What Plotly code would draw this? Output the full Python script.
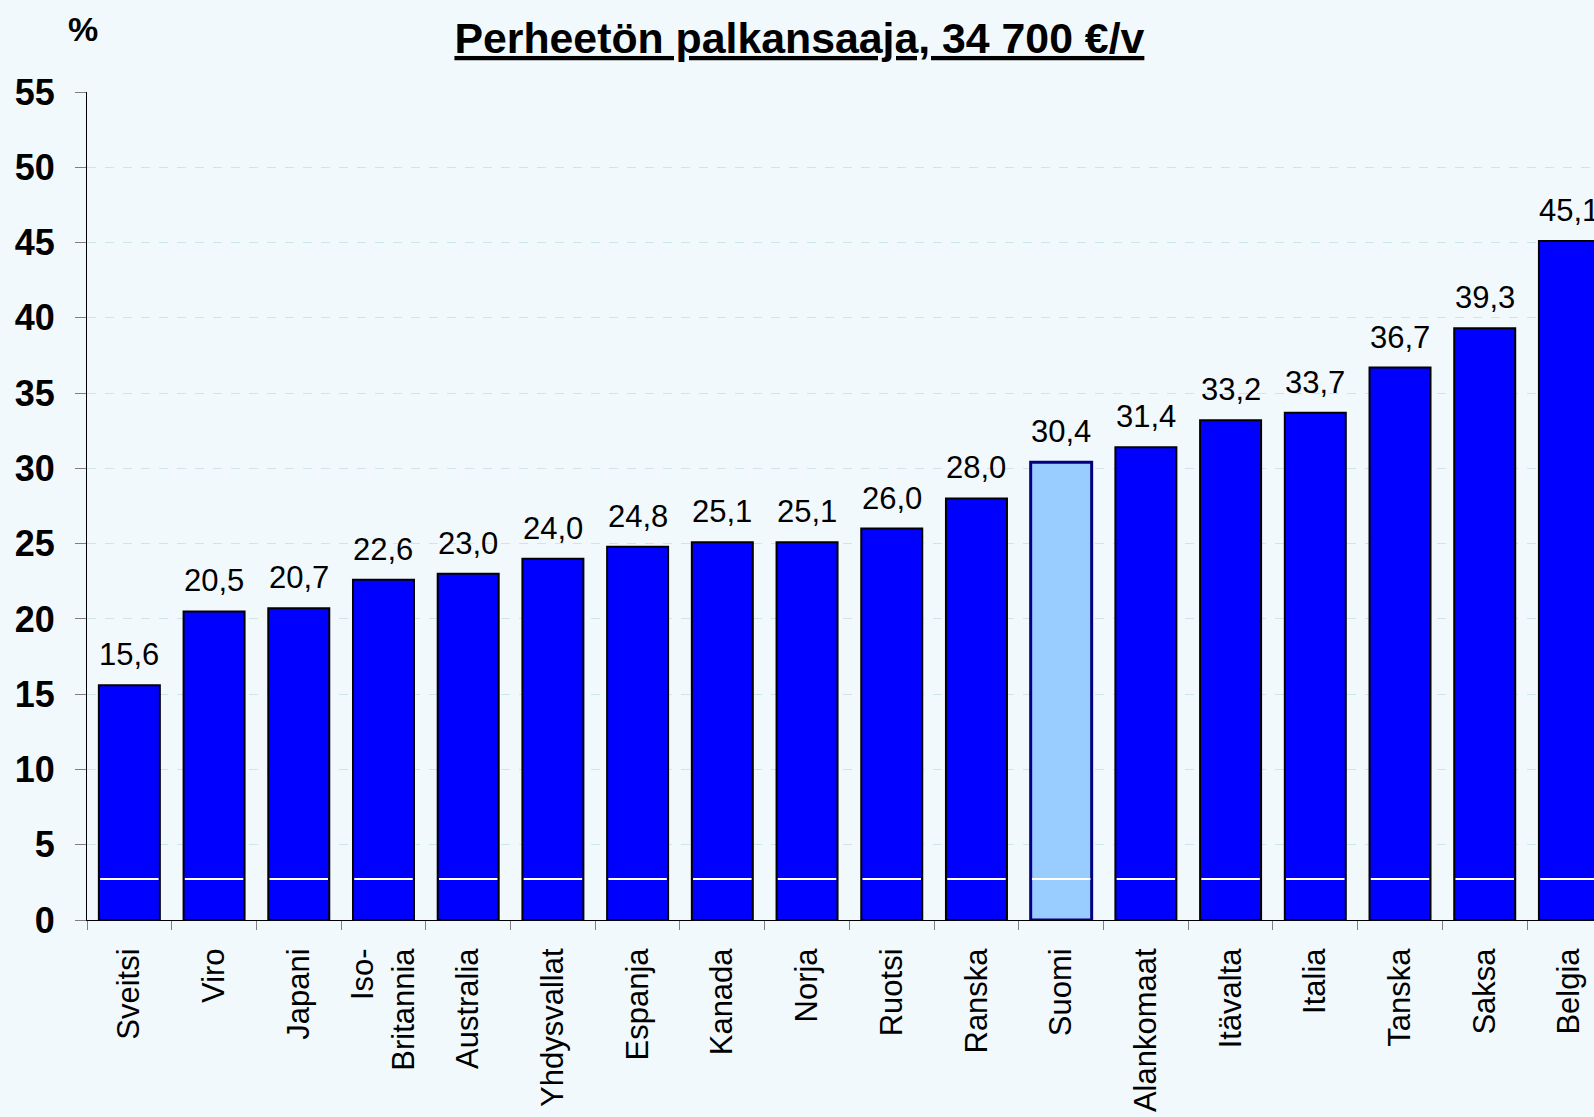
import plotly.graph_objects as go

countries = ["Sveitsi", "Viro", "Japani", "Iso-<br>Britannia", "Australia", "Yhdysvallat",
             "Espanja", "Kanada", "Norja", "Ruotsi", "Ranska", "Suomi", "Alankomaat",
             "Itävalta", "Italia", "Tanska", "Saksa", "Belgia"]
values = [15.6, 20.5, 20.7, 22.6, 23.0, 24.0, 24.8, 25.1, 25.1, 26.0, 28.0, 30.4, 31.4,
          33.2, 33.7, 36.7, 39.3, 45.1]
highlight = "Suomi"
stripe_level = 2.70
stripe_height = 0.07
y_ticks = list(range(0, 60, 5))
title_text = "Perheetön palkansaaja, 34 700 €/v"

FONT = "Liberation Sans, Arial, sans-serif"
BG = "#F2F9FD"

fill = ["#99CCFF" if c == highlight else "#0000FF" for c in countries]
edge = ["#000080" if c == highlight else "#000000" for c in countries]
edge_w = [3 if c == highlight else 2 for c in countries]

fig = go.Figure()
fig.add_trace(go.Bar(
    x=countries, y=values, width=0.72,
    marker=dict(color=fill, line=dict(color=edge, width=edge_w)),
    showlegend=False,
))
fig.add_trace(go.Bar(
    x=countries, y=[stripe_height] * len(countries), base=[stripe_level - stripe_height / 2] * len(countries),
    width=0.69, marker=dict(color="white", line=dict(width=0)),
    showlegend=False, hoverinfo="skip",
))

value_labels = [dict(x=c, y=v, xref="x", yref="y", text=f"{v:.1f}".replace(".", ","),
                     showarrow=False, xanchor="center", yanchor="bottom", yshift=11,
                     font=dict(family=FONT, size=31, color="black"))
                for c, v in zip(countries, values)]

fig.update_layout(
    width=1594, height=1117,
    margin=dict(l=87, r=0, t=92, b=197, pad=0, autoexpand=False),
    paper_bgcolor=BG, plot_bgcolor=BG,
    barmode="overlay",
    separators=", ",
    font=dict(family=FONT, color="black"),
    title=dict(text="<u>" + title_text + "</u>", xref="container", x=0.5015,
               xanchor="center", y=1 - 38 / 1117, yanchor="middle",
               font=dict(family=FONT, size=42.8, color="black", weight="bold")),
    annotations=[dict(text="%", xref="paper", yref="paper", x=-0.0025, y=1.0765,
                      xanchor="center", yanchor="middle", showarrow=False,
                      font=dict(family=FONT, size=34, color="black", weight="bold"))] + value_labels,
)
fig.update_xaxes(
    type="category", range=[-0.5, 17.29], automargin=False,
    showline=True, linecolor="black", linewidth=1,
    ticks="outside", tickson="boundaries", ticklen=9, tickcolor="#808080", tickwidth=1,
    tickangle=-90, tickfont=dict(family=FONT, size=31, color="black"),
    ticklabelstandoff=15, showgrid=False,
)
fig.update_yaxes(
    range=[0, 55], tickvals=y_ticks, automargin=False,
    showline=True, linecolor="black", linewidth=1,
    ticks="outside", ticklen=11, tickcolor="#808080", tickwidth=1,
    tickfont=dict(family=FONT, size=36, color="black", weight="bold"),
    ticklabelstandoff=13,
    showgrid=True, gridcolor="#CFE6E6", griddash="dash", gridwidth=1,
    zeroline=False,
)

fig.write_html("out.html", config={"displayModeBar": False},
               post_script="document.body.style.margin='0';document.body.style.overflow='hidden';")
